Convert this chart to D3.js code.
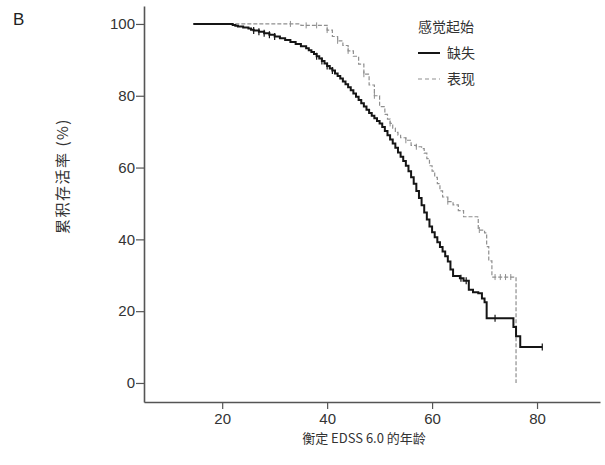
<!DOCTYPE html>
<html><head><meta charset="utf-8">
<script src="https://cdn.jsdelivr.net/npm/d3@7"></script>
<style>body{margin:0;background:#fff}svg{display:block}</style>
</head><body>
<svg id="c" width="605" height="465"></svg>
<script>
const xTicks = [20, 40, 60, 80];
const yTicks = [0, 20, 40, 60, 80, 100];
const seriesNames = ["缺失", "表现"];
const legendTitle = "感觉起始";
const xLabel = "衡定 EDSS 6.0 的年龄";
const yLabel = "累积存活率 (%)";
const panelLabel = "B";

// solid: 缺失 (age, cumulative survival %)
const absentCurve = [[14.5,100],[21,100],[22,99.7],[22.5,99.5],[23,99.3],[24,99],[25,98.7],[25.5,98.4],[26,98.2],[27,97.8],[28,97.4],[29,97],[30,96.5],[31,96],[32,95.5],[33,95],[34,94.4],[35,93.8],[36,93.2],[36.5,92.7],[37,92.2],[37.5,91.6],[38,91],[38.5,90.4],[39,89.7],[39.5,89],[40,88.3],[40.5,87.6],[41,87],[41.5,86.2],[42,85.5],[42.5,84.8],[43,84],[43.5,83.2],[44,82.4],[44.5,81.5],[45,80.6],[45.5,79.7],[46,78.8],[46.5,77.9],[47,77],[47.5,76.1],[48,75.2],[48.5,74.4],[49,73.7],[49.5,73],[50,72.3],[50.5,71.3],[51,70.2],[51.5,69],[52,67.8],[52.5,66.7],[53,65.5],[53.5,64.2],[54,63],[54.5,61.8],[55,60.5],[55.5,59],[56,57.3],[56.5,55.5],[57,53.5],[57.5,51.5],[58,49.5],[58.5,47.5],[59,45.5],[59.5,43.6],[60,42],[60.5,40.6],[61,39.2],[61.5,37.9],[62,36.6],[62.5,35.3],[63,33.8],[63.5,31.6],[64,29.8],[65.3,29.2],[66,28.5],[67,26],[67.8,25.3],[68.8,25],[69.5,23.5],[70,22.5],[70.4,18],[75.2,18],[75.5,15.6],[76,13],[76.8,10],[81,10]];
const absentCensor = [26,27,28,29,30,38,39,40,41,65.5,66.5,72,81];
// dashed: 表现
const presentCurve = [[14.5,100],[34,100],[35,99.6],[39.5,99.6],[40,98.3],[41,96.5],[42,95.3],[43,94],[44,92.5],[45,91],[46,88.8],[47,86],[48,83],[49,80],[50,77],[51,74.8],[51.5,73.5],[52,72.3],[52.5,71],[53,69.8],[53.5,69],[54,68.3],[55,67.6],[56,66.2],[57,65.8],[58,65.3],[58.5,64],[59,62.5],[59.5,60.5],[60,59],[60.5,57.3],[61,55.5],[61.5,53.5],[62,51.8],[63,50.5],[64,49.6],[65,48],[66,46.3],[68.7,46],[68.8,42.6],[70,41.8],[70.4,38],[70.8,34],[71.4,29.5],[76,29.5],[76,0]];
const presentCensor = [33,36,38,40,42,44,47,49,52,55,57,63,69,72,73,74,75];

const svg = d3.select("#c");
const x = d3.scaleLinear().domain([5.1, 92]).range([144, 600]);
const y = d3.scaleLinear().domain([-5.3, 105]).range([402, 6]);
const axisColor = "#555";
const numFont = "'Liberation Sans', Arial, sans-serif";
const cjkFont = "'Noto Sans CJK SC', sans-serif";

// axes
const gx = svg.append("g").attr("transform", "translate(0,402)")
  .call(d3.axisBottom(x).tickValues(xTicks).tickSize(7).tickPadding(4).tickSizeOuter(0));
const gy = svg.append("g").attr("transform", "translate(144,0)")
  .call(d3.axisLeft(y).tickValues(yTicks).tickSize(8).tickPadding(1).tickSizeOuter(0));
[gx, gy].forEach(g => {
  g.select(".domain").attr("stroke", axisColor).attr("stroke-width", 1.6);
  g.selectAll(".tick line").attr("stroke", axisColor).attr("stroke-width", 1.2);
  g.selectAll(".tick text").attr("fill", "#333").style("font-family", numFont).style("font-size", "15px");
});

function valAt(curve, a){
  let v = curve[0][1];
  for (const p of curve) { if (p[0] <= a) v = p[1]; }
  return v;
}

const line = d3.line().x(d => x(d[0])).y(d => y(d[1])).curve(d3.curveStepAfter);

svg.append("path").datum(presentCurve).attr("d", line)
  .attr("fill", "none").attr("stroke", "#8f8f8f").attr("stroke-width", 1.2).attr("stroke-dasharray", "4,2");
svg.append("path").datum(absentCurve).attr("d", line)
  .attr("fill", "none").attr("stroke", "#151515").attr("stroke-width", 2);

svg.append("g").selectAll("line").data(presentCensor).join("line")
  .attr("x1", d => x(d)).attr("x2", d => x(d))
  .attr("y1", d => y(valAt(presentCurve, d)) - 3).attr("y2", d => y(valAt(presentCurve, d)) + 3)
  .attr("stroke", "#8f8f8f").attr("stroke-width", 1);
svg.append("g").selectAll("line").data(absentCensor).join("line")
  .attr("x1", d => x(d)).attr("x2", d => x(d))
  .attr("y1", d => y(valAt(absentCurve, d)) - 3.5).attr("y2", d => y(valAt(absentCurve, d)) + 3.5)
  .attr("stroke", "#151515").attr("stroke-width", 1.2);

// labels
svg.append("text").attr("x", 13).attr("y", 25).text(panelLabel)
  .style("font-family", numFont).style("font-size", "17px").attr("fill", "#222");
svg.append("text").attr("x", 364).attr("y", 443).attr("text-anchor", "middle").text(xLabel)
  .style("font-family", cjkFont).style("font-size", "13px").attr("fill", "#333");
svg.append("text").attr("transform", "translate(68,176) rotate(-90)").attr("text-anchor", "middle").text(yLabel)
  .style("font-family", cjkFont).style("font-size", "15px").style("letter-spacing", "1.5px").attr("fill", "#333");

// legend
const lg = svg.append("g");
lg.append("text").attr("x", 418).attr("y", 32).text(legendTitle)
  .style("font-family", cjkFont).style("font-size", "14px").attr("fill", "#333");
lg.append("line").attr("x1", 418).attr("x2", 440).attr("y1", 53).attr("y2", 53)
  .attr("stroke", "#151515").attr("stroke-width", 2);
lg.append("line").attr("x1", 418).attr("x2", 440).attr("y1", 79).attr("y2", 79)
  .attr("stroke", "#8f8f8f").attr("stroke-width", 1.2).attr("stroke-dasharray", "4,3");
lg.append("text").attr("x", 447).attr("y", 58).text(seriesNames[0])
  .style("font-family", cjkFont).style("font-size", "14px").attr("fill", "#333");
lg.append("text").attr("x", 447).attr("y", 84).text(seriesNames[1])
  .style("font-family", cjkFont).style("font-size", "14px").attr("fill", "#333");
</script>
</body></html>
